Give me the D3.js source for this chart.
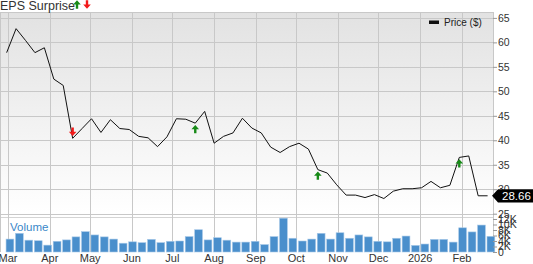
<!DOCTYPE html>
<html>
<head>
<meta charset="utf-8">
<script src="https://d3js.org/d3.v7.min.js"></script>
<style>
  body { margin: 0; background: #fff; }
  svg { display: block; font-family: "Liberation Sans", Arial, sans-serif; }
</style>
</head>
<body>
<svg id="chart" width="533" height="264"></svg>
<script>
// weekly closes
var weeks = ["2025-02-28","2025-03-07","2025-03-14","2025-03-21","2025-03-28","2025-04-04","2025-04-11",
  "2025-04-18","2025-04-25","2025-05-02","2025-05-09","2025-05-16","2025-05-23","2025-05-30","2025-06-06",
  "2025-06-13","2025-06-20","2025-06-27","2025-07-04","2025-07-11","2025-07-18","2025-07-25","2025-08-01",
  "2025-08-08","2025-08-15","2025-08-22","2025-08-29","2025-09-05","2025-09-12","2025-09-19","2025-09-26",
  "2025-10-03","2025-10-10","2025-10-17","2025-10-24","2025-10-31","2025-11-07","2025-11-14","2025-11-21",
  "2025-11-28","2025-12-05","2025-12-12","2025-12-19","2025-12-26","2026-01-02","2026-01-09","2026-01-16",
  "2026-01-23","2026-01-30","2026-02-06","2026-02-13","2026-02-20"];
var price = [57.9,62.8,60.4,57.9,58.9,52.5,51.2,40.4,42.4,44.4,41.6,44.2,42.4,42.2,40.8,40.5,38.7,40.7,
  44.4,44.3,43.5,45.9,39.4,40.8,41.5,44.5,42.5,41.5,38.6,37.5,38.7,39.4,38.2,34.0,33.3,30.9,28.8,28.8,
  28.3,28.9,28.1,29.6,30.1,30.1,30.3,31.6,30.3,30.8,36.5,36.8,28.66,28.66];
var volume = [4.7,6.8,4.3,4.1,2.5,3.9,4.4,5.5,7.4,6.2,5.5,4.7,3.2,3.7,3.4,4.6,3.4,3.9,4.0,5.6,8.1,4.4,
  5.2,4.3,3.6,3.6,3.9,2.7,5.6,12.3,5.0,4.0,4.7,6.8,4.7,7.0,5.0,6.2,5.5,3.9,3.7,5.0,5.8,2.4,2.9,4.6,4.6,
  3.6,8.8,7.3,9.8,5.7]; // thousands
var epsDates = ["2025-04-18","2025-07-18","2025-10-17","2026-01-30"];
var epsTypes = ["down","up","up","up"];
var priceTicks = [25,30,35,40,45,50,55,60,65];
var volumeTicks = [0,2,4,6,8,10,12];
var lastPrice = 28.66;

var parse = d3.utcParse("%Y-%m-%d");
var dates = weeks.map(parse);

var svg = d3.select("#chart");
var plotLeft = 0, plotRight = 493, plotTop = 12, priceBottom = 213.7, volTop = 216.7, volBottom = 252;

var x = d3.scaleUtc()
    .domain([parse("2025-03-01"), parse("2026-02-01")])
    .range([8, 462]);
var y = d3.scaleLinear().domain([25, 65]).range([priceBottom, 17.9]);
var yv = d3.scaleLinear().domain([0, 12]).range([volBottom, 219]);

// background gradient of price panel
var grad = svg.append("defs").append("linearGradient")
    .attr("id", "bg").attr("x1", 0).attr("y1", 0).attr("x2", 0).attr("y2", 1);
grad.append("stop").attr("offset", "0%").attr("stop-color", "#e2e2e2");
grad.append("stop").attr("offset", "100%").attr("stop-color", "#ffffff");

svg.append("rect")
    .attr("x", plotLeft).attr("y", plotTop)
    .attr("width", plotRight - plotLeft).attr("height", priceBottom - plotTop)
    .attr("fill", "url(#bg)");

// horizontal grid (price)
svg.append("g").selectAll("line")
    .data(priceTicks)
  .enter().append("line")
    .attr("x1", plotLeft).attr("x2", plotRight)
    .attr("y1", function(d) { return Math.round(y(d)) + 0.5; })
    .attr("y2", function(d) { return Math.round(y(d)) + 0.5; })
    .attr("stroke", "#c8c8c8");

svg.append("line")
    .attr("x1", plotLeft).attr("x2", plotRight)
    .attr("y1", plotTop + 0.5).attr("y2", plotTop + 0.5)
    .attr("stroke", "#c8c8c8");
svg.append("line")
    .attr("x1", plotLeft).attr("x2", plotRight)
    .attr("y1", Math.round(volTop) + 0.5).attr("y2", Math.round(volTop) + 0.5)
    .attr("stroke", "#d4d4d4");

// vertical grid at month starts
var months = x.ticks(d3.utcMonth.every(1));
svg.append("g").selectAll("line")
    .data(months)
  .enter().append("line")
    .attr("x1", function(d) { return Math.round(x(d)) + 0.5; })
    .attr("x2", function(d) { return Math.round(x(d)) + 0.5; })
    .attr("y1", plotTop).attr("y2", volBottom)
    .attr("stroke", "#c8c8c8");

svg.append("line")
    .attr("x1", 0.5).attr("x2", 0.5).attr("y1", plotTop).attr("y2", volBottom)
    .attr("stroke", "#c8c8c8");
svg.append("line")
    .attr("x1", plotRight + 0.5).attr("x2", plotRight + 0.5).attr("y1", plotTop).attr("y2", volBottom)
    .attr("stroke", "#c8c8c8");

// volume bars
svg.append("g").selectAll("rect")
    .data(volume)
  .enter().append("rect")
    .attr("x", function(d, i) { return x(dates[i]) - 0.6; })
    .attr("y", function(d) { return yv(d); })
    .attr("width", 7.8)
    .attr("height", function(d) { return volBottom - yv(d); })
    .attr("fill", "#4a8fcc")
    .attr("stroke", "#a8c9e8")
    .attr("stroke-width", 0.6);

svg.append("text")
    .attr("x", 10).attr("y", 231)
    .attr("fill", "#3a87c8")
    .style("font-size", "11.5px")
    .text("Volume");

// price line
var line = d3.line()
    .x(function(d, i) { return x(dates[i]); })
    .y(function(d) { return y(d); });

svg.append("path")
    .datum(price)
    .attr("d", line)
    .attr("fill", "none")
    .attr("stroke", "#111")
    .attr("stroke-width", 1);

// eps arrows
var upArrow = "M0,-4.2L3.8,0L1.2,0L1.2,4.2L-1.2,4.2L-1.2,0L-3.8,0Z";
var downArrow = "M0,4.2L3.8,0L1.2,0L1.2,-4.2L-1.2,-4.2L-1.2,0L-3.8,0Z";

svg.append("g").selectAll("path")
    .data(epsDates)
  .enter().append("path")
    .attr("transform", function(d, i) {
      var dt = parse(d);
      var idx = weeks.indexOf(d);
      var py = y(price[idx]);
      var off = epsTypes[i] === "up" ? 6 : -6.5;
      return "translate(" + x(dt) + "," + (py + off) + ")";
    })
    .attr("d", function(d, i) { return epsTypes[i] === "up" ? upArrow : downArrow; })
    .attr("fill", function(d, i) { return epsTypes[i] === "up" ? "#178a17" : "#f21a1a"; });

// title
svg.append("text")
    .attr("x", 0).attr("y", 10)
    .attr("fill", "#333")
    .style("font-size", "12.5px")
    .text("EPS Surprise");
svg.append("path").attr("transform", "translate(77,4.5)").attr("d", upArrow).attr("fill", "#178a17");
svg.append("path").attr("transform", "translate(87,4.5)").attr("d", downArrow).attr("fill", "#f21a1a");

// legend
svg.append("rect")
    .attr("x", 429).attr("y", 20.5).attr("width", 10).attr("height", 3.5)
    .attr("fill", "#111");
svg.append("text")
    .attr("x", 444).attr("y", 26)
    .attr("fill", "#222")
    .style("font-size", "10px")
    .text("Price ($)");

// right price axis
var axisP = svg.append("g")
    .attr("transform", "translate(" + plotRight + ",0)")
    .call(d3.axisRight(y).tickValues(priceTicks).tickSize(4).tickPadding(1));
axisP.select(".domain").remove();
axisP.selectAll("line").attr("stroke", "#999");
axisP.selectAll("text").attr("fill", "#333").style("font-size", "10.5px")
    .style("font-family", "'Liberation Sans', Arial, sans-serif");

// right volume axis
var axisV = svg.append("g")
    .attr("transform", "translate(" + plotRight + ",0)")
    .call(d3.axisRight(yv).tickValues(volumeTicks).tickSize(4).tickPadding(1)
      .tickFormat(function(d) { return d === 0 ? "0" : d + "K"; }));
axisV.select(".domain").remove();
axisV.selectAll("line").attr("stroke", "#999");
axisV.selectAll("text").attr("fill", "#333").style("font-size", "10.5px")
    .style("font-family", "'Liberation Sans', Arial, sans-serif");

// month labels
var fmt = d3.utcFormat("%b");
svg.append("g").selectAll("text")
    .data(months)
  .enter().append("text")
    .attr("x", function(d) { return x(d); })
    .attr("y", 262)
    .attr("text-anchor", "middle")
    .attr("fill", "#333")
    .style("font-size", "11px")
    .text(function(d) { return d.getUTCMonth() === 0 ? d.getUTCFullYear() : fmt(d); });

// last price tag
var ly = y(lastPrice);
svg.append("path")
    .attr("d", "M" + (plotRight - 1) + "," + ly + "L" + (plotRight + 5) + "," + (ly - 6.6) +
      "L533," + (ly - 6.6) + "L533," + (ly + 6.6) + "L" + (plotRight + 5) + "," + (ly + 6.6) + "Z")
    .attr("fill", "#000");
svg.append("text")
    .attr("x", 502).attr("y", ly + 4)
    .attr("fill", "#fff")
    .style("font-size", "11.5px")
    .text(lastPrice.toFixed(2));
</script>
</body>
</html>
